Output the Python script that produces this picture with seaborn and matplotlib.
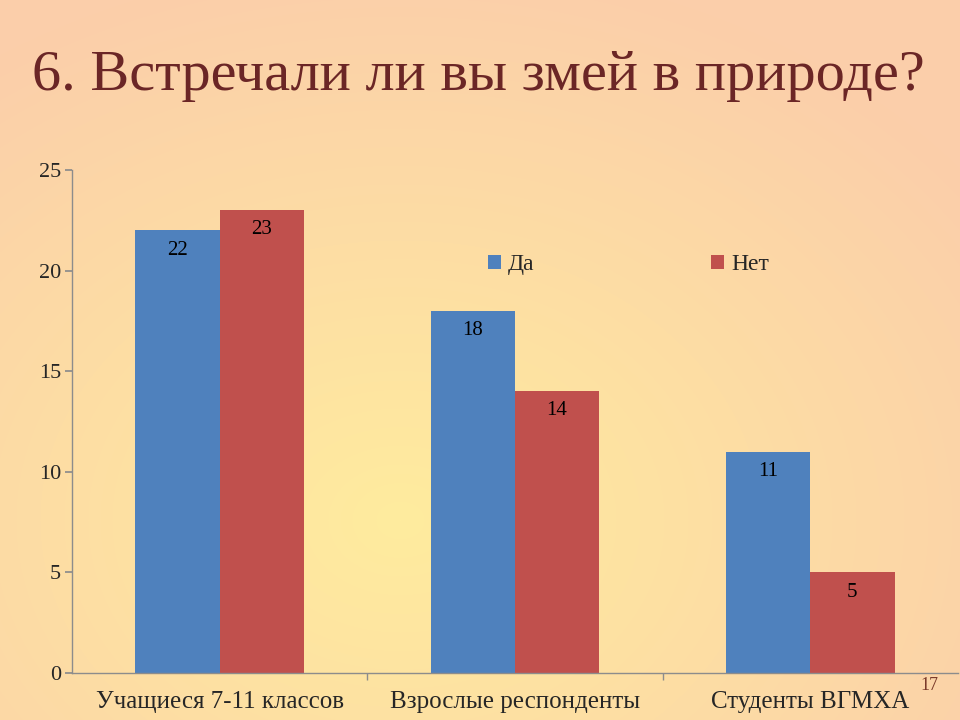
import numpy as np
import pandas as pd
import matplotlib
matplotlib.use("Agg")
import matplotlib.pyplot as plt
import seaborn as sns

# data
groups = ["Учащиеся 7-11 классов", "Взрослые респонденты", "Студенты ВГМХА"]
answers = ["Да", "Нет"]
yes_vals = [22, 18, 11]
no_vals = [23, 14, 5]
title = "6. Встречали ли вы змей в природе?"
page_no = "17"

df = pd.DataFrame({
    "group": groups * 2,
    "answer": [answers[0]] * 3 + [answers[1]] * 3,
    "count": yes_vals + no_vals,
})

sns.set_theme(style="white")
plt.rcParams["font.family"] = ["Liberation Serif", "DejaVu Serif"]

fig = plt.figure(figsize=(9.6, 7.2), dpi=100)

# slide background: soft radial gradient yellow -> peach
bg = fig.add_axes([0, 0, 1, 1], zorder=-10)
h, w = 720, 960
yy, xx = np.mgrid[0:h, 0:w]
d = np.sqrt(((xx - 400) / 720.0) ** 2 + ((yy - 520) / 560.0) ** 2)
d = np.clip(d, 0, 1)[..., None]
c_in = np.array([255, 236, 158]) / 255.0
c_out = np.array([251, 206, 170]) / 255.0
img = c_in * (1 - d) + c_out * d
bg.imshow(img, aspect="auto", extent=[0, 1, 0, 1], origin="upper")
bg.axis("off")

ax = fig.add_axes([72 / 960, 47 / 720, 886 / 960, 503 / 720])
ax.patch.set_alpha(0)

sns.barplot(data=df, x="group", y="count", hue="answer",
            palette=["#4F81BD", "#C0504D"], width=0.57, saturation=1,
            ax=ax, edgecolor="none", linewidth=0)

for cont in ax.containers:
    ax.bar_label(cont, padding=-21, fontsize=15, color="black")

ax.set_ylim(0, 25)
ax.set_yticks([0, 5, 10, 15, 20, 25])
ax.set_xlim(-0.5, 2.5)
ax.set_xlabel("")
ax.set_ylabel("")

for s in ["top", "right"]:
    ax.spines[s].set_visible(False)
for s in ["left", "bottom"]:
    ax.spines[s].set_color("#8C8C8C")
    ax.spines[s].set_linewidth(1)

ax.tick_params(axis="y", which="both", left=True, length=5, color="#8C8C8C",
               labelsize=16, pad=3)
ax.set_xticks([0.5, 1.5], minor=True)
ax.tick_params(axis="x", which="major", bottom=False, labelsize=18, pad=7)
ax.tick_params(axis="x", which="minor", bottom=True, length=5, color="#8C8C8C")

leg = ax.legend(loc="upper left", bbox_to_anchor=(0.445, 0.875), ncol=2,
                frameon=False, fontsize=17, handlelength=0.55, handleheight=0.55,
                handletextpad=0.3, columnspacing=7.5)

fig.text(0.033, 0.895, title, fontsize=42, color="#6B2626",
         va="center", ha="left")
# slide page number, nudged right so it clears the last category label
fig.text(0.968, 0.042, page_no, fontsize=13, color="#7A3A2A", ha="center")

fig.savefig("out.png", dpi=100)
